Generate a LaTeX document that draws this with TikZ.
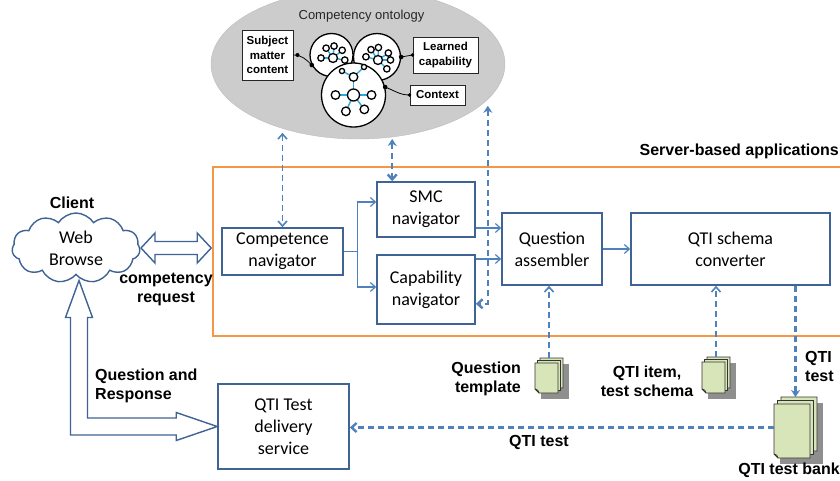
\documentclass[tikz,border=0pt]{standalone}
\usepackage{fontspec}
\setmainfont{Carlito}
\newfontfamily\labfont{Liberation Sans}
\usetikzlibrary{arrows.meta,shapes.geometric,shapes.symbols,calc}
\definecolor{boxblue}{RGB}{63,99,149}
\definecolor{lineblue}{RGB}{79,129,189}
\definecolor{srvorange}{RGB}{245,150,70}
\definecolor{ontgray}{RGB}{204,204,204}
\definecolor{docgreen}{RGB}{216,229,184}
\definecolor{netcyan}{RGB}{40,170,225}

\tikzset{
  tipb/.tip={Straight Barb[length=5pt,width=9pt]},
  tips/.tip={Stealth[length=7pt,width=9pt]},
}

% star-shaped concept network: hub, hub radius, spoke length, angles, satellite radius
\newcommand{\netstar}[5]{%
  \foreach \a in {#4} {\draw[link] (#1) -- ++(\a:#3);}
  \foreach \a in {#4} {\filldraw[ringsty] ($(#1)+(\a:#3)$) circle[radius=#5];}
  \filldraw[ringsty] (#1) circle[radius=#2];
}

% stack of three pages with a drop shadow, drawn inside node #1, page offset #2
\newcommand{\docstack}[2]{%
  \path (#1.north west) coordinate (dnw) (#1.north east) coordinate (dne)
        (#1.south west) coordinate (dsw) (#1.south east) coordinate (dse);
  \fill[docshadow] ($(dnw)+(6,6)$) rectangle ($(dse)+(6,6)$);
  \foreach \k in {2,1,0} {
    \filldraw[docpage]
      ($(dnw)+({\k*#2},{(2-\k)*#2})$) --
      ($(dne)+({-(2-\k)*#2},{(2-\k)*#2})$) --
      ($(dse)+({-(2-\k)*#2},{-\k*#2})$) --
      ($(dsw)+({\k*#2+4},{-\k*#2})$) --
      ($(dsw)+({\k*#2},{-\k*#2-4})$) -- cycle;
  }
  \draw[docpage,fill=none] ($(dsw)+(4,0)$) .. controls ($(dsw)+(3,-3)$) .. ($(dsw)+(0,-4)$);
}

\begin{document}
\begin{tikzpicture}[x=1pt,y=-1pt,
  box/.style={draw=boxblue,line width=1.6pt,fill=white,align=center,inner sep=0pt,
    font=\fontsize{18}{22}\selectfont},
  lab/.style={font=\labfont\bfseries\fontsize{16}{19}\selectfont,inner sep=0pt},
  ontbox/.style={draw=black!85,line width=1pt,fill=white,align=center,inner sep=0pt,
    font=\labfont\bfseries\fontsize{11.5}{14.5}\selectfont},
  flow/.style={draw=lineblue,line width=1.2pt},
  flowarr/.style={flow,-{tipb}},
  dthin/.style={draw=lineblue,line width=1.6pt,dash pattern=on 6pt off 4pt},
  dthick/.style={draw=lineblue,line width=2.4pt,dash pattern=on 6pt off 4pt},
  hollow/.style={draw=boxblue,line width=1.4pt,fill=white,line join=miter},
  docpage/.style={draw=black!80,line width=0.8pt,fill=docgreen},
  docshadow/.style={fill=black!55,opacity=0.8},
  docnode/.style={inner sep=0pt,outer sep=0pt},
  ringsty/.style={draw=black,line width=1.3pt,fill=white},
  link/.style={draw=netcyan,line width=1.4pt},
  pin/.style={draw=black,line width=0.8pt},
]
\useasboundingbox (0,0) rectangle (840,480);

% ---------- competency ontology ----------
\node[ellipse,fill=ontgray,draw=ontgray!92!black,minimum width=294pt,minimum height=150pt,
      inner sep=0pt] (ont) at (358,64) {};
\node[font=\labfont\fontsize{13}{15}\selectfont,text=black!85] (onttitle) at (361.5,16)
  {Competency ontology};

\node[circle,draw,line width=1.3pt,fill=white,minimum size=43pt,inner sep=0pt] (c1) at (331.5,55) {};
\netstar{333,58}{4.5}{12}{180,235,275,320,10}{3.2}
\node[circle,draw,line width=1.3pt,fill=white,minimum size=47pt,inner sep=0pt] (c2) at (377,57) {};
\netstar{378,60}{4.5}{12.5}{195,236,272,326,0,45}{3.2}
\node[circle,draw,line width=1.3pt,fill=white,minimum size=64pt,inner sep=0pt] (c3) at (353.5,95) {};
\draw[link] (353.5,77) -- (342,71) (353.5,77) -- (364,67);
\filldraw[ringsty] (342,71) circle[radius=2.6] (364,67) circle[radius=2.6];
\netstar{353.5,95}{6}{18}{0,53,115,180,270}{4.3}

\node[ontbox,minimum width=51pt,minimum height=50pt] (sub) at (267.5,55) {Subject\\matter\\content};
\node[ontbox,minimum width=65pt,minimum height=36pt] (lcap) at (445.5,55) {Learned\\capability};
\node[ontbox,minimum width=55pt,minimum height=20pt] (ctx) at (437.5,95) {Context};

\draw[pin] (sub.east) to[out=0,in=135] (c1.207);
\draw[pin] (lcap.west) -- (c2.east);
\draw[pin] (c3.14) to[out=-20,in=180] (ctx.west);
\fill (sub.east) ++(4,0) circle[radius=2] (c1.207) circle[radius=2.3]
      (lcap.west) circle[radius=1.8] (c2.east) circle[radius=2.3]
      (c3.14) circle[radius=2.3] (ctx.west) circle[radius=1.8];

% ---------- server-based applications ----------
\node[draw=srvorange,line width=2pt,minimum width=640pt,minimum height=169pt,inner sep=0pt]
  (srv) at (533,251.5) {};
\node[lab,anchor=east] (srvlab) at (839,151) {Server-based applications};

\node[box,minimum width=121pt,minimum height=47pt] (comp) at (282.5,251.5) {Competence\\navigator};
\node[box,minimum width=98pt,minimum height=55pt] (smc) at (426,209.5) {SMC\\navigator};
\node[box,minimum width=98pt,minimum height=69pt] (cap) at (426,289.5) {Capability\\navigator};
\node[box,minimum width=100pt,minimum height=72pt] (qa) at (552,249) {Question\\assembler};
\node[box,minimum width=199pt,minimum height=72pt] (qti) at (730.5,249) {QTI schema\\converter};
\node[box,minimum width=131pt,minimum height=85pt] (deliv) at (283.5,426.5) {QTI Test\\delivery\\service};

% navigator fan-out and assembly
\draw[flow] (comp.east) -- ++(14,0) coordinate (fork);
\draw[flowarr] (fork) |- ($(smc.west)+(0,-7.5)$);
\draw[flowarr] (fork) |- ($(cap.west)+(0,-2.5)$);
\coordinate (a1) at ($(smc.east)+(0,18.5)$);
\coordinate (a2) at ($(cap.east)+(0,-30.5)$);
\draw[flowarr] (a1) -- (a1 -| qa.west);
\draw[flowarr] (a2) -- (a2 -| qa.west);
\draw[flowarr] (qa.east) -- (qti.west);

% ---------- client ----------
\node[lab] (client) at (72,203) {Client};
\node[cloud,cloud puffs=11,cloud puff arc=115,aspect=1.8,draw=boxblue,line width=1.4pt,fill=white,
      minimum width=128pt,minimum height=70pt,inner sep=0pt,align=center,
      font=\fontsize{18}{22}\selectfont] (web) at (76,248) {Web\\Browse};

% competency request: double hollow arrow
\coordinate (ha) at (141,248);
\coordinate (hb) at ($(comp.west |- ha)+(-10,0)$);
\draw[hollow] (ha) -- ++(14,-15) -- ++(0,8.5) -- ($(hb)+(-14,-6.5)$) -- ++(0,-8.5) -- (hb)
  -- ++(-14,15) -- ++(0,-8.5) -- ($(ha)+(14,6.5)$) -- ++(0,8.5) -- cycle;
\node[lab,align=center] (creq) at (166,289.5) {competency\\request};

% question and response: L-shaped double hollow arrow
\coordinate (lt) at ($(web.south)+(3,5)$);
\coordinate (lr) at (deliv.west);
\coordinate (lc) at (lt |- lr);
\draw[hollow] (lt) -- ++(13.5,37) -- ++(-5,0) -- ($(lc)+(8.5,-8.5)$) -- ($(lr)+(-41,-8.5)$)
  -- ++(0,-5.5) -- (lr) -- ++(-41,14) -- ++(0,-5.5) -- ($(lc)+(-8.5,8.5)$)
  -- ($(lt)+(-8.5,37)$) -- ++(-5,0) -- cycle;
\node[lab,align=left,anchor=west] (qrlab) at (95,386) {Question and\\Response};

% ---------- ontology links ----------
\draw[dthin,{tipb}-{tipb},shorten <=4pt] (comp.north |- ont.221) -- (comp.north);
\coordinate (s1) at ($(smc.north west)+(16,0)$);
\draw[dthick,{tips}-{tipb},shorten <=2pt] (s1 |- ont.296) -- (s1);
\coordinate (c3in) at ($(cap.south east)+(0,-21)$);
\coordinate (k) at ($(c3in)+(12,0)$);
\draw[dthick,{tips}-{tipb},shorten <=5pt] (k |- ont.344) -- (k) -- (c3in);

% ---------- documents ----------
\node[docnode,minimum width=28pt,minimum height=35pt] (qtpl) at (549,375.5) {};
\docstack{qtpl}{2.5}
\node[docnode,minimum width=28pt,minimum height=36pt] (qitem) at (716,375) {};
\docstack{qitem}{2.5}
\node[docnode,minimum width=43pt,minimum height=61pt] (bank) at (795.5,427.5) {};
\docstack{bank}{3.5}

\node[lab,align=right,anchor=east] (qtlab) at (521,379) {Question\\template};
\node[lab,align=center] (qilab) at (647,381) {QTI item,\\test schema};
\node[lab,align=left,anchor=west] (qtlab2) at (805,366) {QTI\\test};
\node[lab] (qtlab3) at (539,442) {QTI test};
\node[lab] (banklab) at (789,470) {QTI test bank};

\draw[dthin,-{tipb}] (qtpl.north) -- (qtpl.north |- qa.south);
\draw[dthin,-{tipb}] (qitem.north) -- (qitem.north |- qti.south);
\draw[dthick,-{tips}] (bank.north |- qti.south) -- (bank.north);
\draw[dthick,-{tipb}] (bank.west) -- (bank.west -| deliv.east);
\end{tikzpicture}
\end{document}
